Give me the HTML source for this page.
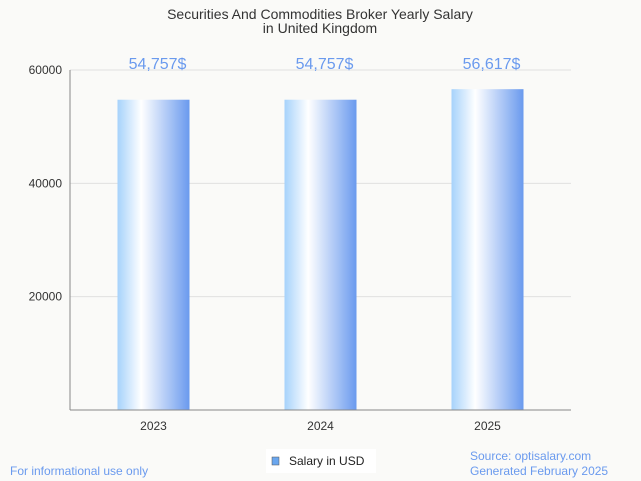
<!DOCTYPE html>
<html><head><meta charset="utf-8"><style>
body{margin:0;background:#fafaf8;font-family:"Liberation Sans",sans-serif;}
svg{display:block}
</style></head><body>
<svg width="641" height="481" viewBox="0 0 641 481">
<defs>
<linearGradient id="g" x1="0" x2="1" y1="0" y2="0">
<stop offset="0" stop-color="#a6d2fb"/>
<stop offset="0.33" stop-color="#ffffff"/>
<stop offset="1" stop-color="#6a9aee"/>
</linearGradient>
</defs>
<rect width="641" height="481" fill="#fafaf8"/>
<text x="320" y="19" text-anchor="middle" font-size="14" fill="#333">Securities And Commodities Broker Yearly Salary</text>
<text x="320" y="33" text-anchor="middle" font-size="14" fill="#333">in United Kingdom</text>
<g id="grid"></g>
<g id="bars"></g>
<line x1="70" y1="70" x2="70" y2="410" stroke="#888"/>
<line x1="70" y1="410" x2="571" y2="410" stroke="#888"/>
<g>
<rect x="266" y="449" width="110" height="24" fill="#fff"/>
<rect x="272" y="457" width="7" height="8" fill="#6aa6ee" stroke="#555" stroke-width="0.5"/>
<text x="289" y="465" font-size="12" fill="#222">Salary in USD</text>
</g>
<text x="10" y="475" font-size="12" fill="#6a9aee">For informational use only</text>
<text x="470" y="460" font-size="12" fill="#6a9aee">Source: optisalary.com</text>
<text x="470" y="475" font-size="12" fill="#6a9aee">Generated February 2025</text>
</svg>
<script>
const categories=["2023","2024","2025"];
const salaries=[54757,54757,56617];
const yTicks=[20000,40000,60000];
const ns="http://www.w3.org/2000/svg";
const x0=70,x1=571,y0=410,yTop=70,yMax=60000;
function y(v){return y0-(v/yMax)*(y0-yTop);}
function xc(i){return x0+(x1-x0)*(i+0.5)/categories.length;}
function mk(tag,attrs,parent){const e=document.createElementNS(ns,tag);for(const k in attrs)e.setAttribute(k,attrs[k]);parent.appendChild(e);return e;}
const grid=document.getElementById('grid'),bars=document.getElementById('bars');
yTicks.forEach(t=>{
 const l=mk('line',{x1:x0,x2:x1,y1:y(t),y2:y(t),stroke:'#e0e0e0'},grid);
 
 
 const tx=mk('text',{x:62,y:y(t)+4,'text-anchor':'end','font-size':12,fill:'#333'},grid);
 tx.textContent=t;
 
 
});
const bw=72;
categories.forEach((c,i)=>{
 const cx=xc(i),v=salaries[i];
 const r=mk('rect',{x:cx-bw/2,y:y(v),width:bw,height:y0-y(v),fill:'url(#g)'},bars);
 
 
 const lb=mk('text',{x:cx+4,y:69,'text-anchor':'middle','font-size':16,fill:'#6a9aee'},bars);
 lb.textContent=v.toLocaleString('en-US')+'$';
 
 
 const xl=mk('text',{x:cx,y:430,'text-anchor':'middle','font-size':12,fill:'#333'},bars);
 xl.textContent=c;
 
 
});
</script>
</body></html>
